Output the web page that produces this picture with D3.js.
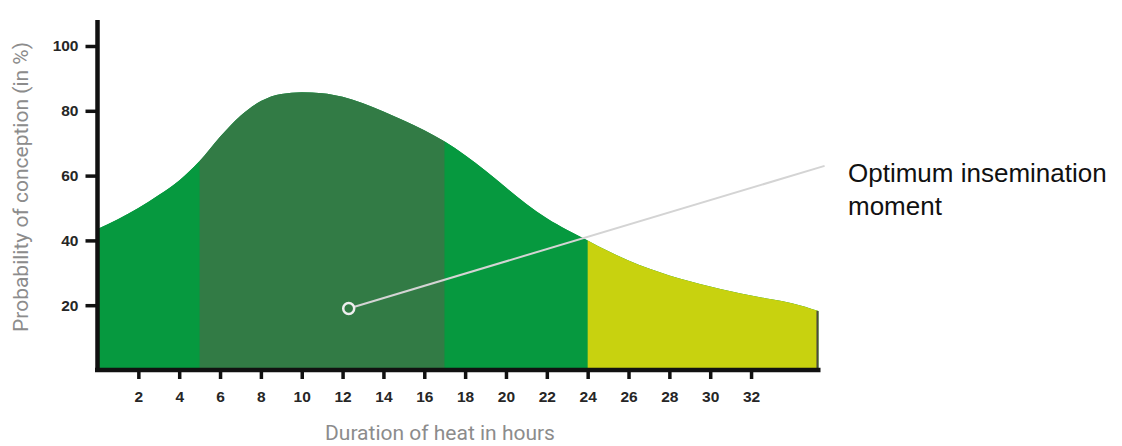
<!DOCTYPE html>
<html>
<head>
<meta charset="utf-8">
<script src="https://cdn.jsdelivr.net/npm/d3@7"></script>
<style>
  html, body { margin: 0; padding: 0; background: #ffffff; }
  svg { display: block; }
</style>
</head>
<body>
<svg id="chart" width="1122" height="446"></svg>
<script>
// Conception probability over the course of heat (hours since onset)
const hours = [0, 1, 2, 3, 4, 5, 6, 7, 8, 9, 10, 11, 12, 13, 14, 15, 16, 17, 18, 19, 20,
               21, 22, 23, 24, 25, 26, 27, 28, 29, 30, 31, 32, 33, 34, 35.3];
const probability = [43.5, 46.5, 50, 54, 58.5, 64.5, 72, 78.5, 83, 85.2, 85.7, 85.4, 84.3, 82.3, 79.8, 77, 74, 70.5,
                     66.3, 61.5, 56.3, 51.2, 46.8, 43.2, 40, 36.7, 33.8, 31.3, 29.2, 27.4, 25.8, 24.3, 23, 21.8, 20.6, 18.2];

// Phases of heat, as hour ranges with their fill colours
const phaseStart = [0, 5, 17, 24];
const phaseEnd = [5, 17, 24, 35.3];
const phaseColor = ["#06993f", "#327b45", "#06993f", "#c8d20f"];

// Axis ticks
const xTicks = [2, 4, 6, 8, 10, 12, 14, 16, 18, 20, 22, 24, 26, 28, 30, 32];
const yTicks = [20, 40, 60, 80, 100];

// Annotation: optimum insemination point and where its leader line ends
const optimumPoint = [12.3, 19];
const leaderEnd = [35.6, 63];
const optimumLabel = ["Optimum insemination", "moment"];

const xTitle = "Duration of heat in hours";
const yTitle = "Probability of conception (in %)";

const svg = d3.select("#chart");

const x = d3.scaleLinear().domain([0, 35.4]).range([97.5, 820.5]);
const y = d3.scaleLinear().domain([0, 100]).range([370, 46]);

const series = hours.map((h, i) => ({ h, v: probability[i] }));

const area = d3.area()
  .x(d => x(d.h))
  .y0(y(0))
  .y1(d => y(d.v))
  .curve(d3.curveMonotoneX);

// Base fill under the whole curve, then each phase clipped on top
svg.append("path")
  .attr("d", area(series))
  .attr("fill", phaseColor[0]);

const defs = svg.append("defs");
phaseStart.forEach((s, i) => {
  defs.append("clipPath").attr("id", "phase" + i)
    .append("rect")
    .attr("x", x(s))
    .attr("y", 0)
    .attr("width", x(phaseEnd[i]) - x(s))
    .attr("height", y(0));
});

svg.append("g").selectAll("path")
  .data(phaseStart)
  .join("path")
  .attr("d", area(series))
  .attr("fill", (d, i) => phaseColor[i])
  .attr("clip-path", (d, i) => `url(#phase${i})`);

// Dark edge at the right end of the curve
const last = series[series.length - 1];
svg.append("line")
  .attr("x1", x(last.h) - 1).attr("x2", x(last.h) - 1)
  .attr("y1", y(last.v)).attr("y2", y(0))
  .attr("stroke", "#4a4a40").attr("stroke-width", 2);

const tickFont = sel => sel
  .attr("fill", "#262626")
  .style("font-family", "'Liberation Sans', Arial, sans-serif")
  .style("font-size", "15.5px")
  .style("font-weight", "bold");

// Y axis
const yAxis = d3.axisLeft(y).tickValues(yTicks).tickSize(12).tickPadding(7);
const gy = svg.append("g").attr("transform", `translate(${x(0)},0)`).call(yAxis);
gy.select(".domain").remove();
gy.append("line")
  .attr("x1", 0).attr("x2", 0)
  .attr("y1", 20).attr("y2", y(0) + 2)
  .attr("stroke", "#111").attr("stroke-width", 4.5);
gy.selectAll(".tick line").attr("stroke", "#111").attr("stroke-width", 3.5);
gy.selectAll(".tick text").call(tickFont);

// X axis
const xAxis = d3.axisBottom(x).tickValues(xTicks).tickSize(9).tickPadding(12);
const gx = svg.append("g").attr("transform", `translate(0,${y(0)})`).call(xAxis);
gx.select(".domain").remove();
gx.append("line")
  .attr("x1", x(0) - 2.5).attr("x2", x(35.4))
  .attr("y1", 0).attr("y2", 0)
  .attr("stroke", "#111").attr("stroke-width", 4.5);
gx.selectAll(".tick line").attr("stroke", "#111").attr("stroke-width", 3.5);
gx.selectAll(".tick text").call(tickFont);

// Axis titles
svg.append("text")
  .attr("x", 440).attr("y", 440)
  .attr("text-anchor", "middle")
  .attr("fill", "#8c8c8c")
  .style("font-family", "Roboto, sans-serif")
  .style("font-size", "21px")
  .text(xTitle);

svg.append("text")
  .attr("transform", "translate(28,187) rotate(-90)")
  .attr("text-anchor", "middle")
  .attr("fill", "#8c8c8c")
  .style("font-family", "Roboto, sans-serif")
  .style("font-size", "21px")
  .text(yTitle);

// Leader line and marker for the optimum moment
svg.append("line")
  .attr("x1", x(optimumPoint[0])).attr("y1", y(optimumPoint[1]))
  .attr("x2", x(leaderEnd[0])).attr("y2", y(leaderEnd[1]))
  .attr("stroke", "#d4d4d4").attr("stroke-width", 2);

svg.append("circle")
  .attr("cx", x(optimumPoint[0])).attr("cy", y(optimumPoint[1]))
  .attr("r", 5.5)
  .attr("fill", "#327b45")
  .attr("stroke", "#eeeeee").attr("stroke-width", 2.5);

svg.append("text")
  .attr("x", 848).attr("y", 182)
  .attr("fill", "#111")
  .style("font-family", "'Liberation Sans', Arial, sans-serif")
  .style("font-size", "26px")
  .selectAll("tspan")
  .data(optimumLabel)
  .join("tspan")
  .attr("x", 848)
  .attr("dy", (d, i) => i === 0 ? 0 : 33)
  .text(d => d);
</script>
</body>
</html>
